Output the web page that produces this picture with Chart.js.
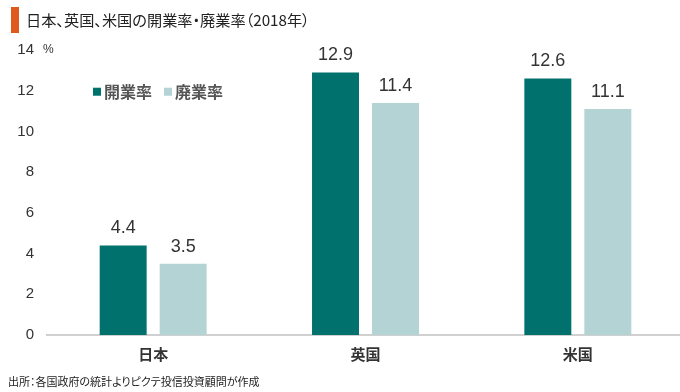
<!DOCTYPE html>
<html><head><meta charset="utf-8">
<script src="https://cdn.jsdelivr.net/npm/chart.js@4.4.1/dist/chart.umd.min.js"></script>
<style>
html,body{margin:0;padding:0;background:#fff;overflow:hidden;width:680px;height:392px;}
#wrap{position:absolute;left:0;top:0;width:684px;height:392px;}
#title{position:absolute;left:26px;top:7px;font-family:"Noto Sans CJK JP";font-size:15.2px;color:#222;line-height:24px;white-space:nowrap;font-feature-settings:"palt";}
#bar{position:absolute;left:11px;top:7px;width:8px;height:26px;background:#E05A1E;}
#foot{position:absolute;left:8px;top:373px;font-family:"Noto Sans CJK JP";font-size:11px;color:#222;line-height:16px;white-space:nowrap;font-feature-settings:"palt";}
</style></head>
<body>
<div id="wrap"><canvas id="c" width="684" height="392"></canvas></div>
<div id="bar"></div>
<div id="title">日本、英国、米国の開業率・廃業率（2018年）</div>
<div id="foot">出所：各国政府の統計よりピクテ投信投資顧問が作成</div>
<script>
const categories = ["日本", "英国", "米国"];
const seriesNames = ["開業率", "廃業率"];
const openingRate = [4.4, 12.9, 12.6];
const closingRate = [3.5, 11.4, 11.1];
const yTicks = [0, 2, 4, 6, 8, 10, 12, 14];
const colors = ["#00716D", "#B3D3D5"];

const numFont = '"Liberation Sans Narrow", "Liberation Sans", sans-serif';

const valueLabels = {
  id: 'valueLabels',
  afterDatasetsDraw(chart) {
    const ctx = chart.ctx;
    ctx.save();
    ctx.font = '18px ' + numFont;
    ctx.fillStyle = '#333';
    ctx.textAlign = 'center';
    ctx.textBaseline = 'bottom';
    chart.data.datasets.forEach((ds, i) => {
      chart.getDatasetMeta(i).data.forEach((el, j) => {
        ctx.fillText(ds.data[j].toFixed(1), el.x, el.y - 8);
      });
    });
    ctx.restore();
  }
};
const innerLegend = {
  id: 'innerLegend',
  afterDraw(chart) {
    const ctx = chart.ctx;
    const a = chart.chartArea;
    ctx.save();
    ctx.font = 'bold 16px "Noto Sans CJK JP"';
    ctx.textBaseline = 'middle';
    const yScale = chart.scales.y;
    const cy = yScale.getPixelForValue(12) + 1;
    let x = a.left + 46;
    chart.data.datasets.forEach((ds) => {
      ctx.fillStyle = ds.backgroundColor;
      ctx.fillRect(x, cy - 4, 8, 8);
      ctx.fillStyle = '#555';
      ctx.textAlign = 'left';
      ctx.fillText(ds.label, x + 11, cy);
      x += 11 + ctx.measureText(ds.label).width + 12;
    });
    ctx.restore();
  }
};
const pctUnit = {
  id: 'pctUnit',
  afterDraw(chart) {
    const ctx = chart.ctx;
    const y = chart.scales.y.getPixelForValue(14);
    ctx.save();
    ctx.font = '12px ' + numFont;
    ctx.fillStyle = '#333';
    ctx.textAlign = 'left';
    ctx.textBaseline = 'middle';
    ctx.fillText('%', chart.chartArea.left - 4, y);
    ctx.restore();
  }
};

new Chart(document.getElementById('c'), {
  type: 'bar',
  data: {
    labels: categories,
    datasets: [
      { label: seriesNames[0], data: openingRate, backgroundColor: colors[0] },
      { label: seriesNames[1], data: closingRate, backgroundColor: colors[1] }
    ]
  },
  options: {
    responsive: false,
    animation: false,
    devicePixelRatio: 1,
    layout: { padding: { top: 50, right: 0, left: 0, bottom: 0 } },
    plugins: { legend: { display: false }, tooltip: { enabled: false } },
    datasets: { bar: { categoryPercentage: 0.565, barPercentage: 0.783 } },
    scales: {
      x: {
        grid: { display: false, drawTicks: false },
        border: { display: true, color: '#D0D0D0', width: 2 },
        ticks: { padding: 10, color: '#333', font: { family: 'Noto Sans CJK JP', size: 15, weight: 'bold' } },
        afterFit(s) { s.height = 57; }
      },
      y: {
        min: 0, max: 14,
        afterBuildTicks(s) { s.ticks = yTicks.map(v => ({ value: v })); },
        grid: { display: false, drawTicks: false },
        border: { display: false },
        ticks: { padding: 13, color: '#333', font: { family: numFont, size: 15 } },
        afterFit(s) { s.width = 47; }
      }
    }
  },
  plugins: [valueLabels, innerLegend, pctUnit]
});
</script>
</body></html>
